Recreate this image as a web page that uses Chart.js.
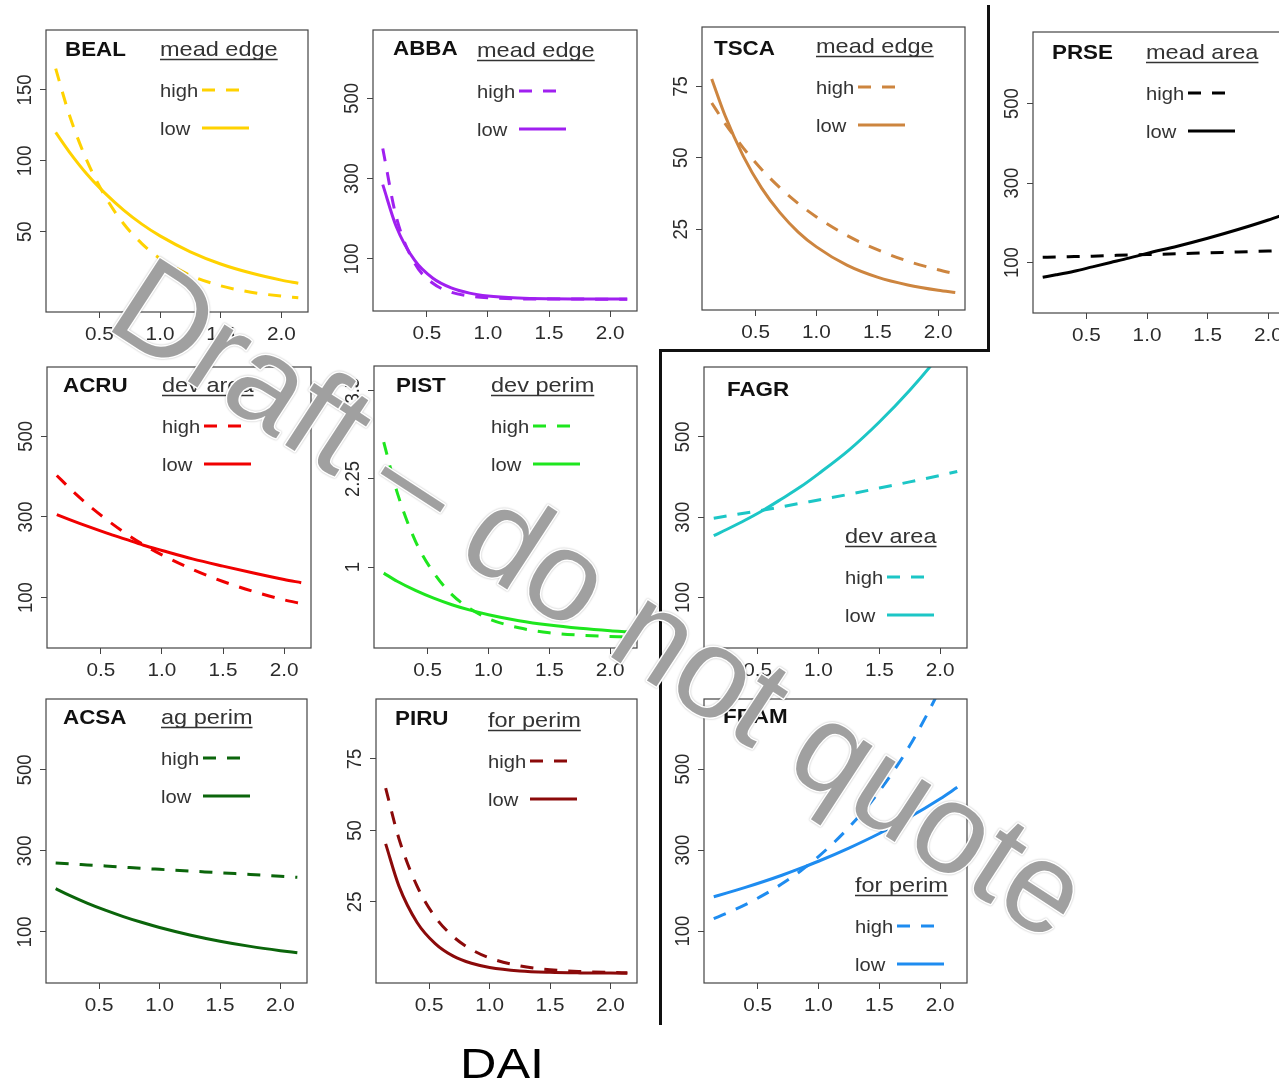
<!DOCTYPE html>
<html>
<head>
<meta charset="utf-8">
<title>DAI response curves</title>
<script src="https://cdn.jsdelivr.net/npm/chart.js@4.4.1/dist/chart.umd.min.js"></script>
<style>
  html, body { margin: 0; padding: 0; background: #fff; }
  #page { position: relative; width: 1279px; height: 1088px; overflow: hidden; background: #fff; }
  #page canvas { position: absolute; }
  .rule { position: absolute; background: #111; z-index: 2; }
  #overlay { left: 0; top: 0; z-index: 3; pointer-events: none; }
</style>
</head>
<body>
<div id="page">
  <div class="rule" style="left:987px;top:5px;width:3px;height:347px"></div>
  <div class="rule" style="left:659px;top:349px;width:331px;height:3px"></div>
  <div class="rule" style="left:659px;top:349px;width:3px;height:676px"></div>
  <canvas id="overlay" width="1279" height="1088"></canvas>
</div>
<script>
const dai = [0.14, 0.25, 0.4, 0.55, 0.7, 0.85, 1.0, 1.25, 1.5, 1.75, 2.0, 2.14];
const xTicks = [0.5, 1.0, 1.5, 2.0];

// y tick sets
const bealTicks = [50, 100, 150];
const countTicks = [100, 300, 500];
const smallTicks = [25, 50, 75];
const pistTicks = [1, 2.25, 3.5];

// high = dashed, low = solid
const bealHigh = [165, 133, 99.6, 74.5, 55.6, 41.6, 31.1, 19.2, 11.8, 7.3, 4.5, 3.4];
const bealLow  = [120, 106.5, 90.3, 76.8, 65.2, 55.3, 47, 35.8, 27.2, 20.8, 15.8, 13.6];
const abbaHigh = [375, 205, 90, 39.5, 17.2, 7.5, 3.3, 0.8, 0.2, 0.1, 0, 0];
const abbaLow  = [285, 181, 97, 52, 28, 15, 8, 2.9, 1.0, 0.4, 0.1, 0.1];
const tscaHigh = [69.2, 62, 53.4, 45.9, 39.5, 34, 29.3, 22.8, 17.8, 13.8, 10.8, 9.4];
const tscaLow  = [77.6, 64.7, 50.5, 39.4, 30.8, 24, 18.8, 12.4, 8.2, 5.45, 3.6, 2.86];
const prseHigh = [113, 114, 115, 116, 117.5, 119, 120, 122, 124.5, 126.5, 129, 130];
const prseLow  = [63, 69, 78, 89, 100, 111, 123, 141, 161, 183, 207, 222];
const acruHigh = [403, 370, 329, 293, 260, 231, 206, 170, 140, 115, 94.5, 85];
const acruLow  = [306, 293, 276, 260, 245, 230, 217, 196, 178, 161, 145, 137];
const pistHigh = [2.77, 2.06, 1.37, 0.92, 0.61, 0.41, 0.27, 0.14, 0.07, 0.036, 0.018, 0.013];
const pistLow  = [0.915, 0.8, 0.67, 0.56, 0.467, 0.39, 0.326, 0.241, 0.179, 0.133, 0.098, 0.083];
const fagrHigh = [297.5, 303, 310.6, 318, 326, 334.5, 342.8, 357, 372.5, 388, 404, 414];
const fagrLow  = [254, 270, 293, 318, 346, 375, 408, 467, 537, 616, 706, 763];
const acsaHigh = [270, 268, 265.5, 263, 260, 257, 254.5, 250.5, 246, 242, 237.5, 235];
const acsaLow  = [207, 191, 171.4, 153.8, 138, 123.8, 111, 92.6, 77.2, 64.4, 53.8, 48.6];
const piruHigh = [64.8, 47.1, 30.5, 19.7, 12.8, 8.3, 5.35, 2.6, 1.25, 0.61, 0.29, 0.2];
const piruLow  = [45.3, 30.5, 17.8, 10.4, 6.0, 3.5, 2.05, 0.83, 0.34, 0.14, 0.06, 0.03];
const framHigh = [131, 144.6, 165.5, 189.4, 216.8, 248, 284, 356, 445.6, 558, 699, 792];
const framLow  = [185, 194.4, 208, 222.5, 238, 254.7, 272.5, 305, 341, 381.6, 427, 455];

const FONT = '"Liberation Sans", Arial, sans-serif';
const STRETCH = 1.12;
const PAD_L = 50, PAD_T = 4, PAD_R = 4, PAD_B = 40;

// box = plot frame on the page, title/leg = left x and baseline y on the page
const panels = [
  { code: 'BEAL', head: 'mead edge', color: '#FFD200', high: bealHigh, low: bealLow, yTicks: bealTicks,
    yMin: -6.7, yMax: 192.3, box: [46, 30, 308, 312], title: [65, 56], leg: [160, 56] },
  { code: 'ABBA', head: 'mead edge', color: '#A020F0', high: abbaHigh, low: abbaLow, yTicks: countTicks,
    yMin: -29.5, yMax: 670, box: [373, 30, 637, 311], title: [393, 55], leg: [477, 57] },
  { code: 'TSCA', head: 'mead edge', color: '#CD853F', high: tscaHigh, low: tscaLow, yTicks: smallTicks,
    yMin: -3.3, yMax: 95.8, box: [702, 27, 965, 310], title: [714, 55], leg: [816, 53] },
  { code: 'PRSE', head: 'mead area', color: '#000000', high: prseHigh, low: prseLow, yTicks: countTicks,
    yMin: -27, yMax: 680, box: [1033, 32, 1295, 313], title: [1052, 59], leg: [1146, 59] },
  { code: 'ACRU', head: 'dev area', color: '#F00000', high: acruHigh, low: acruLow, yTicks: countTicks,
    yMin: -25, yMax: 672, box: [47, 367, 311, 648], title: [63, 392], leg: [162, 392] },
  { code: 'PIST', head: 'dev perim', color: '#1EE61E', high: pistHigh, low: pistLow, yTicks: pistTicks,
    yMin: -0.146, yMax: 3.85, box: [374, 366, 637, 648], title: [396, 392], leg: [491, 392] },
  { code: 'FAGR', head: 'dev area', color: '#1CC6C6', high: fagrHigh, low: fagrLow, yTicks: countTicks,
    yMin: -25.7, yMax: 674, box: [704, 367, 967, 648], title: [727, 396], leg: [845, 543] },
  { code: 'ACSA', head: 'ag perim', color: '#0B650B', high: acsaHigh, low: acsaLow, yTicks: countTicks,
    yMin: -26, yMax: 675, box: [46, 699, 307, 983], title: [63, 724], leg: [161, 724] },
  { code: 'PIRU', head: 'for perim', color: '#8B0A0A', high: piruHigh, low: piruLow, yTicks: smallTicks,
    yMin: -3.4, yMax: 96, box: [376, 699, 637, 983], title: [395, 725], leg: [488, 727] },
  { code: 'FRAM', head: 'for perim', color: '#1E8CF0', high: framHigh, low: framLow, yTicks: countTicks,
    yMin: -28, yMax: 673, box: [704, 699, 967, 983], title: [723, 723], leg: [855, 892] }
];

function wideText(ctx, str, x, y, font, align, baseline, sx) {
  ctx.save();
  ctx.translate(x, y);
  ctx.scale(sx || STRETCH, 1);
  ctx.font = font;
  ctx.textAlign = align;
  ctx.textBaseline = baseline;
  ctx.fillText(str, 0, 0);
  ctx.restore();
}

function toPoints(values) {
  return dai.map((x, i) => ({ x: x, y: values[i] }));
}

// frame, tick labels, title and the little legend inside each panel
function decor(cfg) {
  return {
    id: 'decor',
    afterDraw(chart) {
      const ctx = chart.ctx;
      const a = chart.chartArea;
      const xs = chart.scales.x, ys = chart.scales.y;
      const L = px => px - cfg.box[0] + a.left;
      const T = py => py - cfg.box[1] + a.top;
      ctx.save();
      ctx.strokeStyle = '#444';
      ctx.lineWidth = 1.2;
      ctx.strokeRect(a.left, a.top, a.right - a.left, a.bottom - a.top);

      ctx.fillStyle = '#2b2b2b';
      xTicks.forEach(v => {
        wideText(ctx, v.toFixed(1), xs.getPixelForValue(v), a.bottom + 23, '18.5px ' + FONT, 'center', 'middle');
      });
      cfg.yTicks.forEach(v => {
        ctx.save();
        ctx.translate(a.left - 21, ys.getPixelForValue(v));
        ctx.scale(STRETCH, 1);
        ctx.rotate(-Math.PI / 2);
        ctx.font = '18.5px ' + FONT;
        ctx.textAlign = 'center';
        ctx.textBaseline = 'middle';
        ctx.fillText(String(v), 0, 0);
        ctx.restore();
      });

      ctx.fillStyle = '#111';
      wideText(ctx, cfg.code, L(cfg.title[0]), T(cfg.title[1]), 'bold 20px ' + FONT, 'left', 'alphabetic');

      const hx = L(cfg.leg[0]), hy = T(cfg.leg[1]);
      ctx.fillStyle = '#333';
      wideText(ctx, cfg.head, hx, hy, '21px ' + FONT, 'left', 'alphabetic');
      ctx.font = '21px ' + FONT;
      const hw = ctx.measureText(cfg.head).width * STRETCH;
      ctx.strokeStyle = '#333';
      ctx.lineWidth = 1.5;
      ctx.beginPath();
      ctx.moveTo(hx, hy + 3.5);
      ctx.lineTo(hx + hw, hy + 3.5);
      ctx.stroke();

      wideText(ctx, 'high', hx, hy + 41, '18px ' + FONT, 'left', 'alphabetic');
      wideText(ctx, 'low', hx, hy + 79, '18px ' + FONT, 'left', 'alphabetic');
      ctx.strokeStyle = cfg.color;
      ctx.lineWidth = 3;
      ctx.setLineDash([13, 11]);
      ctx.beginPath();
      ctx.moveTo(hx + 42, hy + 34);
      ctx.lineTo(hx + 79, hy + 34);
      ctx.stroke();
      ctx.setLineDash([]);
      ctx.beginPath();
      ctx.moveTo(hx + 42, hy + 72);
      ctx.lineTo(hx + 89, hy + 72);
      ctx.stroke();
      ctx.restore();
    }
  };
}

const page = document.getElementById('page');
const overlay = document.getElementById('overlay');

panels.forEach(cfg => {
  const [l, t, r, b] = cfg.box;
  const w = r - l + PAD_L + PAD_R;
  const h = b - t + PAD_T + PAD_B;
  const canvas = document.createElement('canvas');
  canvas.width = w;
  canvas.height = h;
  canvas.style.left = (l - PAD_L) + 'px';
  canvas.style.top = (t - PAD_T) + 'px';
  canvas.style.width = w + 'px';
  canvas.style.height = h + 'px';
  page.insertBefore(canvas, overlay);

  const axisGrid = { drawOnChartArea: false, drawTicks: true, tickLength: 6, color: '#444', lineWidth: 1 };
  new Chart(canvas, {
    type: 'line',
    data: {
      datasets: [{
        label: 'high',
        data: toPoints(cfg.high),
        borderColor: cfg.color,
        borderWidth: 3,
        borderDash: [13, 11],
        pointRadius: 0,
        cubicInterpolationMode: 'monotone',
        fill: false,
        clip: 0
      }, {
        label: 'low',
        data: toPoints(cfg.low),
        borderColor: cfg.color,
        borderWidth: 3,
        pointRadius: 0,
        cubicInterpolationMode: 'monotone',
        fill: false,
        clip: 0
      }]
    },
    options: {
      responsive: false,
      animation: false,
      devicePixelRatio: 1,
      layout: { padding: { left: 0, top: PAD_T, right: PAD_R, bottom: 0 }, autoPadding: false },
      plugins: { legend: { display: false }, tooltip: { enabled: false } },
      scales: {
        x: {
          type: 'linear',
          min: 0.06,
          max: 2.22,
          afterBuildTicks: s => { s.ticks = xTicks.map(v => ({ value: v })); },
          afterFit: s => { s.height = PAD_B; },
          ticks: { display: false },
          grid: axisGrid,
          border: { display: false }
        },
        y: {
          type: 'linear',
          min: cfg.yMin,
          max: cfg.yMax,
          afterBuildTicks: s => { s.ticks = cfg.yTicks.map(v => ({ value: v })); },
          afterFit: s => { s.width = PAD_L; },
          ticks: { display: false },
          grid: axisGrid,
          border: { display: false }
        }
      }
    },
    plugins: [decor(cfg)]
  });
});

// watermark and the shared axis name
const octx = overlay.getContext('2d');
octx.save();
octx.translate(103, 326);
octx.rotate(33.1 * Math.PI / 180);
octx.font = '128px ' + FONT;
octx.lineJoin = 'round';
octx.shadowColor = 'rgba(0,0,0,0.3)';
octx.shadowBlur = 2;
octx.strokeStyle = '#fff';
octx.lineWidth = 3;
octx.strokeText('Draft \u2013 do not quote', 0, 0);
octx.shadowColor = 'transparent';
octx.fillStyle = '#a0a0a0';
octx.fillText('Draft \u2013 do not quote', 0, 0);
octx.restore();

octx.fillStyle = '#000';
wideText(octx, 'DAI', 460, 1078, '42px ' + FONT, 'left', 'alphabetic', 1.2);
</script>
</body>
</html>
